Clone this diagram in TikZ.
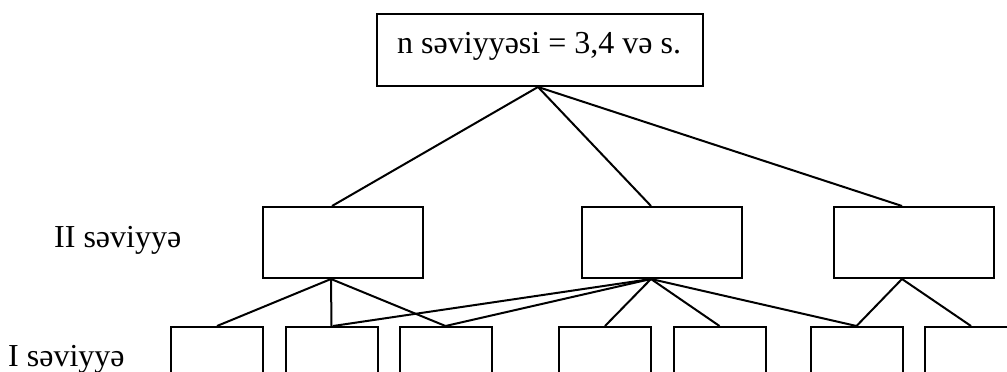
\documentclass[tikz,border=0pt]{standalone}
\usepackage{fontspec}
\setmainfont{Liberation Serif}
\begin{document}
\begin{tikzpicture}[x=1pt,y=-1pt,
  box/.style={draw, rectangle, inner sep=0pt, line width=2pt},
  lbl/.style={anchor=base west, inner sep=0pt, font=\fontsize{32}{38}\selectfont},
  conn/.style={line width=2pt}]
\useasboundingbox (0,0) rectangle (1007,372);
% top
\node[box, minimum width=326pt, minimum height=72pt] (top) at (540,50) {};
\node[lbl] (toptext) at (397,53) {n səviyyəsi = 3,4 və s.};
% level II
\node[box, minimum width=160pt, minimum height=71pt] (b1) at (343,242.5) {};
\node[box, minimum width=160pt, minimum height=71pt] (b2) at (662,242.5) {};
\node[box, minimum width=160pt, minimum height=71pt] (b3) at (914,242.5) {};
% level I
\foreach \n/\x in {a/217,b/331.5,c/445.5,d/605,e/719.5,f/856.5,g/971}
  \node[box, minimum width=92pt, minimum height=70pt, anchor=north] (\n) at (\x,326) {};
% labels
\node[lbl] (l2) at (54,247) {II səviyyə};
\node[lbl] (l1) at (8,366) {I səviyyə};
% connectors top -> II
\draw[conn] ([xshift=-2pt]top.south) -- ([xshift=-11pt]b1.north);
\draw[conn] ([xshift=-2pt]top.south) -- ([xshift=-11pt]b2.north);
\draw[conn] ([xshift=-2pt]top.south) -- ([xshift=-12pt]b3.north);
% II-1 -> I
\draw[conn] ([xshift=-12pt]b1.south) -- (a.north);
\draw[conn] ([xshift=-12pt]b1.south) -- (b.north);
\draw[conn] ([xshift=-12pt]b1.south) -- (c.north);
% II-2 -> I
\draw[conn] ([xshift=-11pt]b2.south) -- ([xshift=1.5pt]b.north);
\draw[conn] ([xshift=-11pt]b2.south) -- (c.north);
\draw[conn] ([xshift=-11pt]b2.south) -- (d.north);
\draw[conn] ([xshift=-11pt]b2.south) -- (e.north);
\draw[conn] ([xshift=-11pt]b2.south) -- (f.north);
% II-3 -> I
\draw[conn] ([xshift=-12pt]b3.south) -- (f.north);
\draw[conn] ([xshift=-12pt]b3.south) -- (g.north);
\end{tikzpicture}
\end{document}
